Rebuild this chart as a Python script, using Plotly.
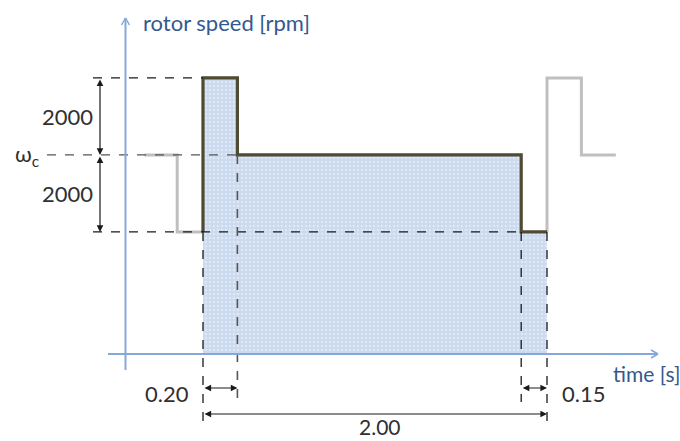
import plotly.graph_objects as go

# ---------------- data (time in s, speed in rpm) ----------------
omega_c = 5170          # centre speed (symbolic ωc), rpm
step = 2000             # speed step, rpm
high = omega_c + step
low = omega_c - step

# grey profile before the cycle (step changes, hv)
pre_t = [-0.34, -0.15, 0.00]
pre_y = [omega_c, low, low]

# dark profile of one cycle (step changes, hv)
cyc_t = [0.00, 0.00, 0.20, 1.85, 2.00]
cyc_y = [low, high, omega_c, low, low]

# grey profile after the cycle
post_t = [2.00, 2.00, 2.20, 2.40]
post_y = [low, high, omega_c, omega_c]

# filled area under cycle
fill_t = [0.00, 0.20, 1.85, 2.00]
fill_y = [high, omega_c, low, low]

dim_labels = ["2000", "2000"]
time_labels = ["0.20", "2.00", "0.15"]
time_dims = [(0.00, 0.20), (0.00, 2.00), (1.85, 2.00)]

# ---------------- pixel scaling ----------------
W, H = 680, 441
PX_T0 = 203.0        # pixel x of t = 0
PX_PER_S = 172.0
PX_Y0 = 354.0        # pixel y of speed 0
RPM_PER_PX = step / 77.0

def tx(px):
    return (px - PX_T0) / PX_PER_S

def ry(py):
    return (PX_Y0 - py) * RPM_PER_PX

dx = 1 / PX_PER_S
dy = RPM_PER_PX

fig = go.Figure()

blue_axis = "#85a8d8"
label_blue = "#33598f"
txt = "#303030"

# fill
fig.add_trace(go.Scatter(
    x=fill_t, y=fill_y, mode="lines", line=dict(width=0, shape="hv"),
    fill="tozeroy", fillcolor="#cfdcf0",
    fillpattern=dict(shape=".", bgcolor="#cbd9ef", fgcolor="#f2f6fc", size=4, solidity=0.35),
    hoverinfo="skip", showlegend=False))

shapes = []
def line(x0, y0, x1, y1, color, width, dash="solid"):
    shapes.append(dict(type="line", xref="x", yref="y", x0=x0, y0=y0, x1=x1, y1=y1,
                       line=dict(color=color, width=width, dash=dash), layer="above"))

dash_c = "#1a1a1a"
# horizontal dashed reference lines
line(tx(93), high, 0.0, high, dash_c, 1.3, "dash")
line(tx(47), omega_c, 0.20, omega_c, "#555555", 1.3, "dash")
line(tx(93), low, 1.85, low, dash_c, 1.3, "dash")
# vertical dashed lines
line(0.0, low, 0.0, ry(428), dash_c, 1.3, "dash")
line(0.20, omega_c, 0.20, ry(402), "#555555", 1.6, "dash")
line(1.85, low, 1.85, ry(402), dash_c, 1.3, "dash")
line(2.00, low, 2.00, ry(428), dash_c, 1.3, "dash")

# axes
ax_t = tx(125.5)
line(ax_t, ry(370), ax_t, ry(18), blue_axis, 2)
line(tx(108), 0, tx(658), 0, blue_axis, 2)
# open arrowheads
line(ax_t - 4 * dx, ry(25), ax_t, ry(18), blue_axis, 1.5)
line(ax_t + 4 * dx, ry(25), ax_t, ry(18), blue_axis, 1.5)
line(tx(651), 4 * dy, tx(658), 0, blue_axis, 1.5)
line(tx(651), -4 * dy, tx(658), 0, blue_axis, 1.5)

fig.update_layout(shapes=shapes)

# profiles
fig.add_trace(go.Scatter(x=pre_t, y=pre_y, mode="lines",
                         line=dict(color="#bfbfbf", width=3, shape="hv"),
                         hoverinfo="skip", showlegend=False))
fig.add_trace(go.Scatter(x=post_t, y=post_y, mode="lines",
                         line=dict(color="#bfbfbf", width=3, shape="hv"),
                         hoverinfo="skip", showlegend=False))
fig.add_trace(go.Scatter(x=cyc_t, y=cyc_y, mode="lines",
                         line=dict(color="#4f4a32", width=3.2, shape="hv"),
                         hoverinfo="skip", showlegend=False))

annotations = []
def darrow(x0, y0, x1, y1):
    annotations.append(dict(x=x1, y=y1, ax=x0, ay=y0, xref="x", yref="y", axref="x", ayref="y",
                            text="", showarrow=True, arrowhead=2, arrowside="end+start",
                            arrowsize=1.1, arrowwidth=1.2, arrowcolor="#1a1a1a",
                            startarrowhead=2, startarrowsize=1.1))

dim_x = tx(100)
darrow(dim_x, high, dim_x, omega_c)
darrow(dim_x, omega_c, dim_x, low)
for (a, b), yy in zip(time_dims, [ry(388), ry(414), ry(388)]):
    darrow(a, yy, b, yy)

font = "Lato, Carlito, sans-serif"
def text(x, y, s, size, color, xanchor="center", yanchor="middle"):
    annotations.append(dict(x=x, y=y, xref="x", yref="y", text=s, showarrow=False,
                            font=dict(family=font, size=size, color=color),
                            xanchor=xanchor, yanchor=yanchor))

text(tx(67), (high + omega_c) / 2, dim_labels[0], 22, txt)
text(tx(67), (omega_c + low) / 2, dim_labels[1], 22, txt)
text(tx(13), omega_c, "ω<sub>c</sub>", 22, txt, xanchor="left")
text(tx(167), ry(393), time_labels[0], 22, txt)
text(tx(380), ry(426), time_labels[1], 21, txt)
text(tx(583), ry(393), time_labels[2], 22, txt)
text(tx(141), ry(22), "rotor speed [rpm]", 22, label_blue, xanchor="left")
text(tx(611), ry(373), "time [s]", 21, label_blue, xanchor="left")

fig.update_layout(annotations=annotations)

fig.update_layout(
    width=W, height=H,
    margin=dict(l=0, r=0, t=0, b=0),
    paper_bgcolor="white", plot_bgcolor="white",
    xaxis=dict(range=[tx(0), tx(W)], visible=False, fixedrange=True),
    yaxis=dict(range=[ry(H), ry(0)], visible=False, fixedrange=True),
    showlegend=False,
)

fig.write_html("out.html", config={"displayModeBar": False},
               post_script="document.body.style.margin='0';document.body.style.overflow='hidden';")
